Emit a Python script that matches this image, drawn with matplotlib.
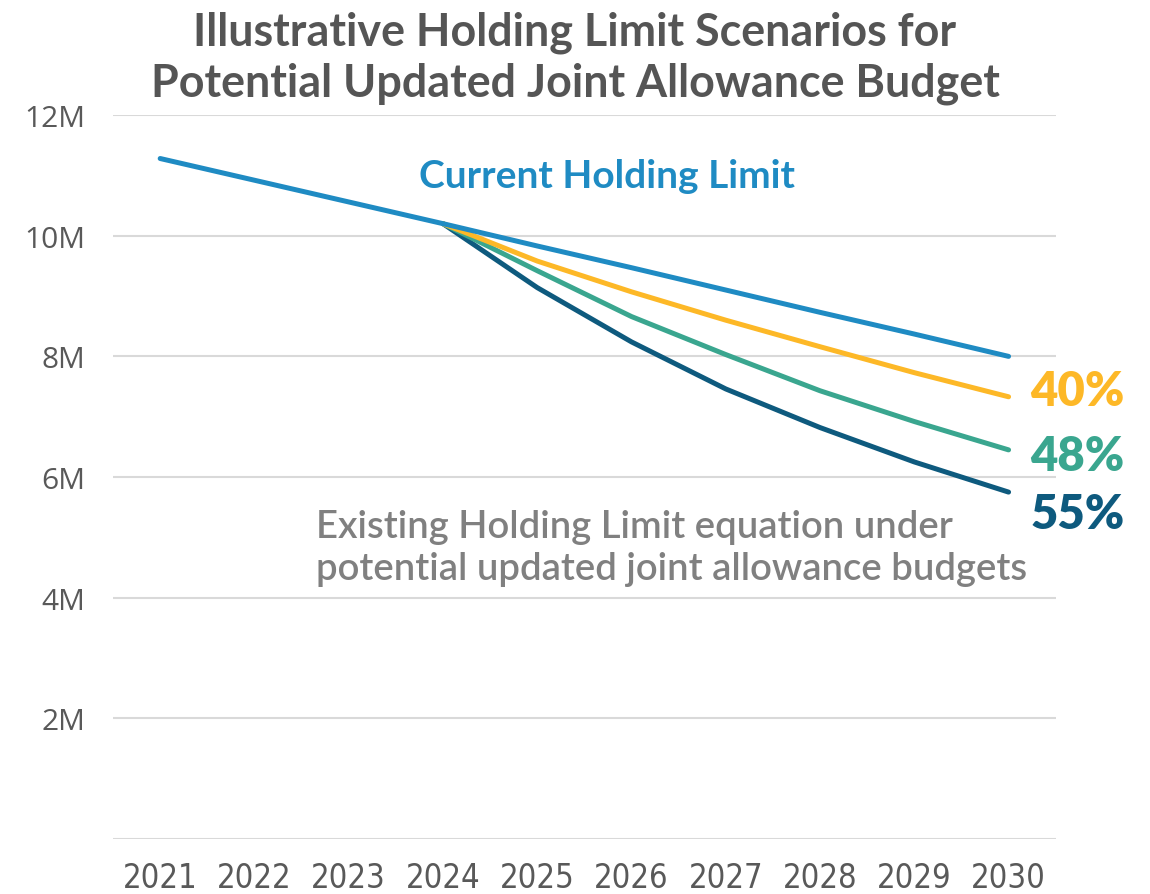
import matplotlib.pyplot as plt
from matplotlib import font_manager

years = [2021, 2022, 2023, 2024, 2025, 2026, 2027, 2028, 2029, 2030]
current_limit = [11.28, 10.92, 10.56, 10.20, 9.83, 9.47, 9.10, 8.73, 8.37, 8.00]
scenario_years = [2024, 2025, 2026, 2027, 2028, 2029, 2030]
limit_40 = [10.20, 9.58, 9.07, 8.60, 8.16, 7.73, 7.33]
limit_48 = [10.20, 9.42, 8.66, 8.03, 7.43, 6.92, 6.45]
limit_55 = [10.20, 9.14, 8.24, 7.46, 6.82, 6.25, 5.75]
scenario_labels = ['40%', '48%', '55%']
y_ticks = [0, 2, 4, 6, 8, 10, 12]
y_labels = ['', '2M', '4M', '6M', '8M', '10M', '12M']

BLUE = '#1f8bc3'
GOLD = '#fdb827'
TEAL = '#3aa68f'
NAVY = '#0e5a7e'
GREY = '#595959'

names = {f.name for f in font_manager.fontManager.ttflist}
narrow = 'Liberation Sans Narrow' if 'Liberation Sans Narrow' in names else 'DejaVu Sans'

fig = plt.figure(figsize=(11.5, 8.95), dpi=100)
ax = fig.add_axes([0.0983, 0.0615, 0.8197, 0.8088])

line_kw = dict(lw=3.6, solid_capstyle='round', solid_joinstyle='round')
ax.plot(years, current_limit, color=BLUE, zorder=5, **line_kw)
ax.plot(scenario_years, limit_40, color=GOLD, zorder=4, **line_kw)
ax.plot(scenario_years, limit_48, color=TEAL, zorder=3, **line_kw)
ax.plot(scenario_years, limit_55, color=NAVY, zorder=2, **line_kw)

ax.set_xlim(2020.5, 2030.5)
ax.set_ylim(0, 12)
ax.set_yticks(y_ticks)
ax.set_yticklabels(y_labels, fontsize=21.5, color=GREY, family=['Open Sans', 'DejaVu Sans'])
ax.set_xticks(years)
ax.set_xticklabels([str(y) for y in years], fontsize=23.5, color=GREY,
                   family=[narrow, 'DejaVu Sans'], fontstretch='condensed')
ax.tick_params(axis='both', length=0)
ax.tick_params(axis='x', pad=16)
ax.tick_params(axis='y', pad=20)
ax.grid(axis='y', color='#d9d9d9', lw=1.5)
ax.set_axisbelow(True)
for s in ax.spines.values():
    s.set_visible(False)

# Labels next to each line
bold = dict(family=['Lato', 'DejaVu Sans'], fontweight='bold')
ax.text(2025.74, 11.0, 'Current Holding Limit', color=BLUE, fontsize=28,
        ha='center', va='center', **bold)
for lbl, vals, col, dy in zip(scenario_labels, [limit_40, limit_48, limit_55],
                              [GOLD, TEAL, NAVY], [0.10, -0.10, -0.37]):
    ax.text(2030.23, vals[-1] + dy, lbl, color=col, fontsize=34,
            ha='left', va='center', family=['Lato', 'DejaVu Sans'], fontweight='heavy')

ax.text(2022.65, 5.47, 'Existing Holding Limit equation under\npotential updated joint allowance budgets',
        color='#808080', fontsize=27.5, ha='left', va='top', linespacing=1.26,
        family=['Lato', 'DejaVu Sans'], fontweight='semibold')

fig.text(0.5, 0.987, 'Illustrative Holding Limit Scenarios for\nPotential Updated Joint Allowance Budget',
         ha='center', va='top', fontsize=32.3, color='#555555', linespacing=1.25,
         family=['Lato', 'DejaVu Sans'], fontweight='bold')

fig.savefig('out.png', dpi=100)
